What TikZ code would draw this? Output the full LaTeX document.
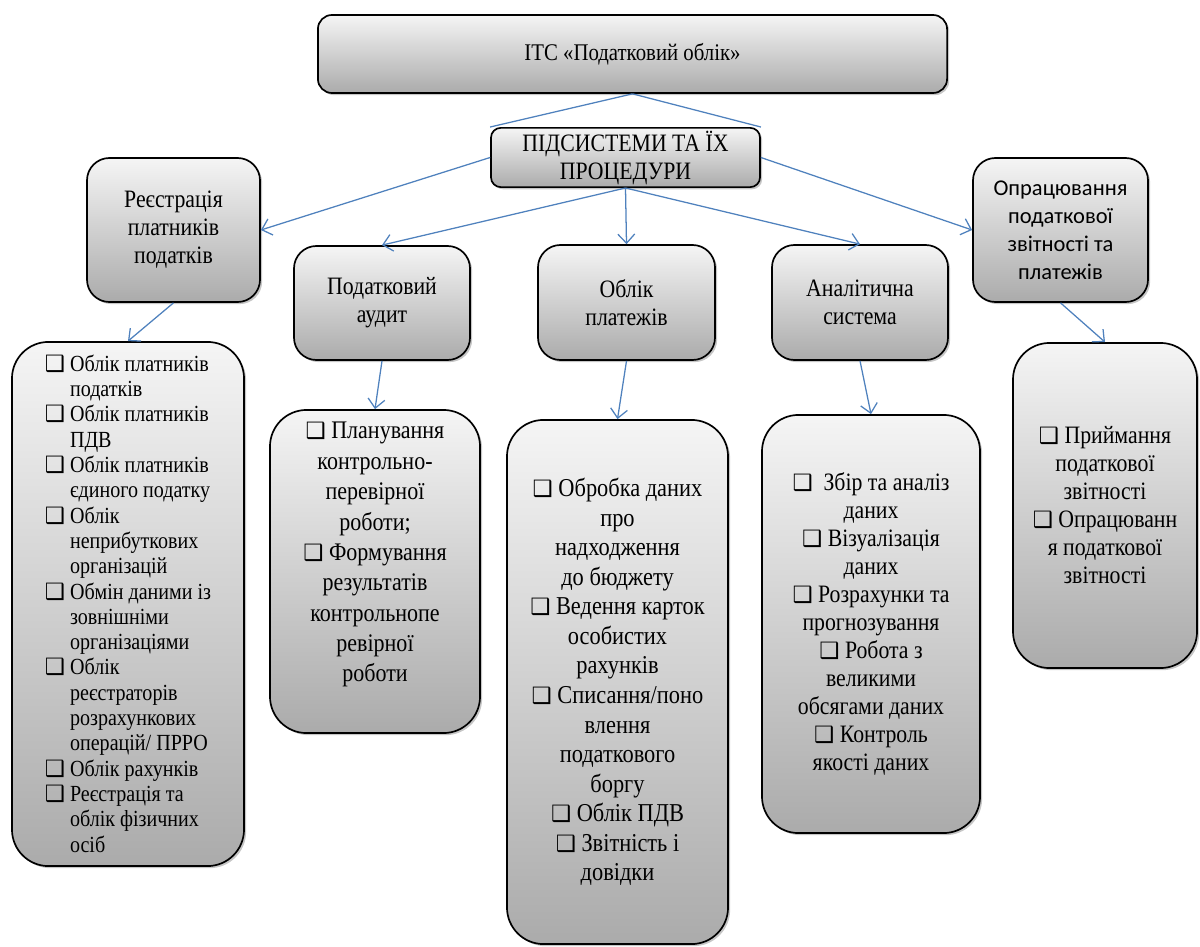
\documentclass[tikz,border=0pt]{standalone}
\usepackage{fontspec}
\setmainfont{Liberation Serif}[FakeStretch=0.87]
\newfontfamily\calibfont{Carlito}
\newfontfamily\symbfont{DejaVu Sans}
\usepackage{xcolor}
\usepackage{tikz}
\usetikzlibrary{arrows.meta}
\usetikzlibrary{shadows}
\definecolor{linkblue}{HTML}{4F81BD}
\newcommand{\qbox}{{\symbfont\fontsize{16}{14}\selectfont ❑}}

\begin{document}
\begin{tikzpicture}[x=0.025cm,y=-0.025cm,
		greybox/.style={draw=black,line width=1.2pt,top color=black!4,bottom color=black!33,
			drop shadow={shadow xshift=1.5pt,shadow yshift=-1.5pt,opacity=0.45},align=center,inner sep=2pt},
		headfont/.style={font=\fontsize{17.8}{19.9}\selectfont},
		itemfont/.style={font=\fontsize{18}{21.6}\selectfont},
		link/.style={draw=linkblue,line width=0.9pt},
		arr/.style={link,-{Straight Barb[length=6.5pt,width=12pt]}}]
		\useasboundingbox (0,0) rectangle (1200,946);

		\node[greybox,rounded corners=10pt,minimum width=15.725cm,minimum height=1.95cm,font=\fontsize{17}{18}\selectfont] (itc) at (632.5,54) {ІТС «Податковий облік»};
		\node[greybox,rounded corners=7pt,minimum width=6.725cm,minimum height=1.375cm,headfont] (subsys) at (625.5,157.5) {ПІДСИСТЕМИ ТА ЇХ\\ПРОЦЕДУРИ};
		\draw[link] (itc.south) -- (subsys.north west);
		\draw[link] (itc.south) -- (subsys.north east);

		% subsystems
		\node[greybox,rounded corners=16pt,minimum width=4.325cm,minimum height=3.6cm,headfont] (reg) at (173.5,230) {Реєстрація\\платників\\податків};
		\node[greybox,rounded corners=16pt,minimum width=4.4cm,minimum height=2.85cm,headfont] (audit) at (382,303) {Податковий\\аудит};
		\node[greybox,rounded corners=16pt,minimum width=4.425cm,minimum height=2.875cm,headfont] (pay) at (626.5,302.5) {Облік\\платежів};
		\node[greybox,rounded corners=16pt,minimum width=4.4cm,minimum height=2.875cm,headfont] (anal) at (860,302.5) {Аналітична\\система};
		\node[greybox,rounded corners=16pt,minimum width=4.375cm,minimum height=3.6cm,font=\calibfont\fontsize{16}{20}\selectfont] (proc) at (1060.5,230) {Опрацювання\\податкової\\звітності та\\платежів};

		\draw[arr] (subsys.west) -- (reg.east);
		\draw[arr] (subsys.south) -- (audit.north);
		\draw[arr] (subsys.south) -- (pay.north);
		\draw[arr] (subsys.south) -- (anal.north);
		\draw[arr] (subsys.east) -- (proc.west);

		% procedures
		\node[greybox,rounded corners=26pt,minimum width=5.8cm,minimum height=13.1cm,align=left,font=\fontsize{16.4}{18}\selectfont] (regbox) at (128,604) {%
			\qbox\ Облік платників\\\phantom{\qbox\ }податків\\
			\qbox\ Облік платників\\\phantom{\qbox\ }ПДВ\\
			\qbox\ Облік платників\\\phantom{\qbox\ }єдиного податку\\
			\qbox\ Облік\\\phantom{\qbox\ }неприбуткових\\\phantom{\qbox\ }організацій\\
			\qbox\ Обмін даними із\\\phantom{\qbox\ }зовнішніми\\\phantom{\qbox\ }організаціями\\
			\qbox\ Облік\\\phantom{\qbox\ }реєстраторів\\\phantom{\qbox\ }розрахункових\\\phantom{\qbox\ }операцій/ ПРРО\\
			\qbox\ Облік рахунків\\
			\qbox\ Реєстрація та\\\phantom{\qbox\ }облік фізичних\\\phantom{\qbox\ }осіб};
		\node[greybox,rounded corners=26pt,minimum width=5.25cm,minimum height=8.075cm,itemfont] (auditbox) at (375,571.5) {%
			\qbox\ Планування\\контрольно-\\перевірної\\роботи;\\
			\qbox\ Формування\\результатів\\контрольнопе\\ревірної\\роботи\\[6pt]};
		\node[greybox,rounded corners=26pt,minimum width=5.525cm,minimum height=13.1cm,font=\fontsize{18.3}{21}\selectfont] (paybox) at (617.5,682) {%
			\qbox\ Обробка даних\\про\\надходження\\до бюджету\\
			\qbox\ Ведення карток\\особистих\\рахунків\\
			\qbox\ Списання/поно\\влення\\податкового\\боргу\\
			\qbox\ Облік ПДВ\\
			\qbox\ Звітність і\\довідки};
		\node[greybox,rounded corners=26pt,minimum width=5.45cm,minimum height=10.45cm,font=\fontsize{17.8}{19.9}\selectfont] (analbox) at (871,624) {%
			\qbox\ \ Збір та аналіз\\даних\\
			\qbox\ Візуалізація\\даних\\
			\qbox\ Розрахунки та\\прогнозування\\
			\qbox\ Робота з\\великими\\обсягами даних\\
			\qbox\ Контроль\\якості даних};
		\node[greybox,rounded corners=26pt,minimum width=4.6cm,minimum height=8.125cm,font=\fontsize{17.8}{19.9}\selectfont] (procbox) at (1105,505.5) {%
			\qbox\ Приймання\\податкової\\звітності\\
			\qbox\ Опрацюванн\\я податкової\\звітності};

		\draw[arr] (reg.south) -- (regbox.north);
		\draw[arr] (audit.south) -- (auditbox.north);
		\draw[arr] (pay.south) -- (paybox.north);
		\draw[arr] (anal.south) -- (analbox.north);
		\draw[arr] (proc.south) -- (procbox.north);

	\end{tikzpicture}
\end{document}
